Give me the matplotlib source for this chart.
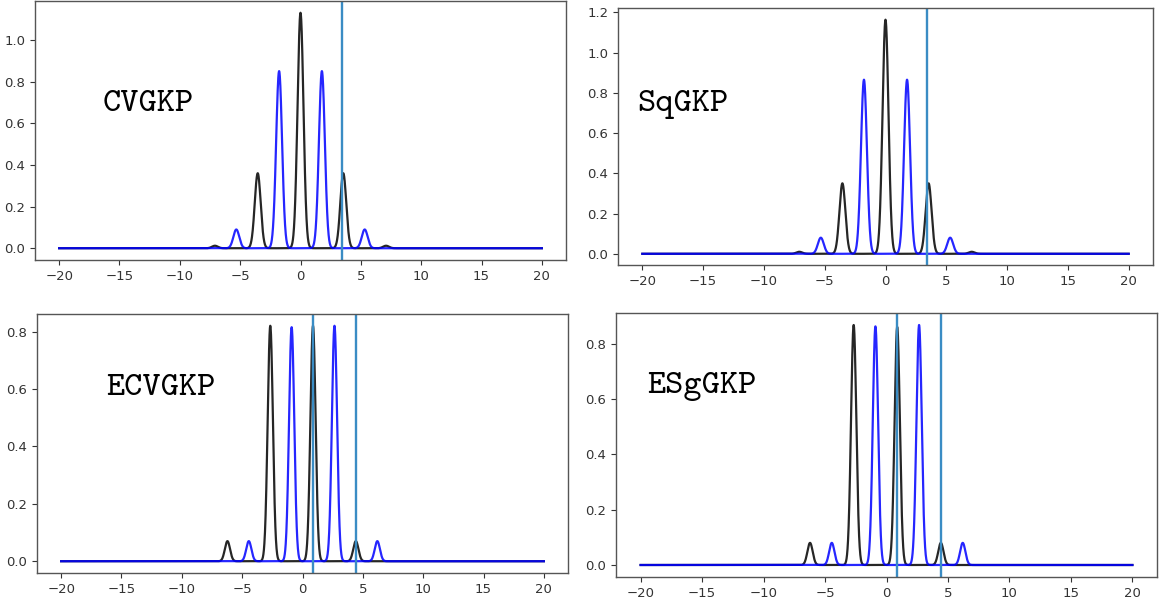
import numpy as np
import matplotlib
matplotlib.use("Agg")
import matplotlib.pyplot as plt

# ---- data (peak centres / heights) ----
labels = ["CVGKP", "SqGKP", "ECVGKP", "ESgGKP"]

black_pos = [
    [-7.09, -3.545, 0.0, 3.545, 7.09],
    [-7.09, -3.545, 0.0, 3.545, 7.09],
    [-6.22, -2.67, 0.87, 4.42],
    [-6.22, -2.67, 0.87, 4.42],
]
black_h = [
    [0.012, 0.36, 1.13, 0.36, 0.012],
    [0.010, 0.35, 1.163, 0.35, 0.010],
    [0.07, 0.82, 0.82, 0.07],
    [0.08, 0.867, 0.86, 0.08],
]
blue_pos = [
    [-5.32, -1.7725, 1.7725, 5.32],
    [-5.32, -1.7725, 1.7725, 5.32],
    [-4.45, -0.90, 2.65, 6.20],
    [-4.45, -0.90, 2.65, 6.20],
]
blue_h = [
    [0.09, 0.85, 0.85, 0.09],
    [0.08, 0.865, 0.865, 0.08],
    [0.07, 0.815, 0.82, 0.07],
    [0.08, 0.862, 0.867, 0.08],
]
peak_sigma = [0.245, 0.245, 0.215, 0.215]
vlines = [[3.44], [3.43], [0.87, 4.42], [0.87, 4.42]]

x_grid = np.linspace(-20, 20, 4001)

# ---- layout (pixels: left, right, top, bottom) ----
W, H = 1162, 606
boxes = [
    (35, 566, 1, 260),
    (618, 1153, 8, 265.5),
    (37, 568, 314, 573),
    (616, 1157, 313, 577),
]
text_pos = [(-16.4, 0.657), (-20.4, 0.71), (-16.3, 0.58), (-19.5, 0.62)]

fig = plt.figure(figsize=(W / 100, H / 100), dpi=100)

for i in range(4):
    l, r, t, b = boxes[i]
    ax = fig.add_axes([l / W, 1 - b / H, (r - l) / W, (b - t) / H])
    s = peak_sigma[i]
    yk = np.zeros_like(x_grid)
    for p, h in zip(black_pos[i], black_h[i]):
        yk += h * np.exp(-(x_grid - p) ** 2 / (2 * s * s))
    yb = np.zeros_like(x_grid)
    for p, h in zip(blue_pos[i], blue_h[i]):
        yb += h * np.exp(-(x_grid - p) ** 2 / (2 * s * s))
    ax.plot(x_grid, yk, color="black", alpha=0.85, lw=1.6)
    ax.plot(x_grid, yb, color="blue", alpha=0.85, lw=1.6)
    for v in vlines[i]:
        ax.axvline(v, color="#3a8cc4", lw=1.7)
    ax.set_xticks([-20, -15, -10, -5, 0, 5, 10, 15, 20])
    ax.tick_params(labelsize=9.5, colors="#333333", length=3.5, width=0.8)
    for sp in ax.spines.values():
        sp.set_color("#555555")
        sp.set_linewidth(1.0)
    tx, ty = text_pos[i]
    ax.text(tx, ty, labels[i], family="cmtt10", fontsize=25,
            va="baseline", ha="left", color="black")

fig.savefig("out.png", dpi=100)
